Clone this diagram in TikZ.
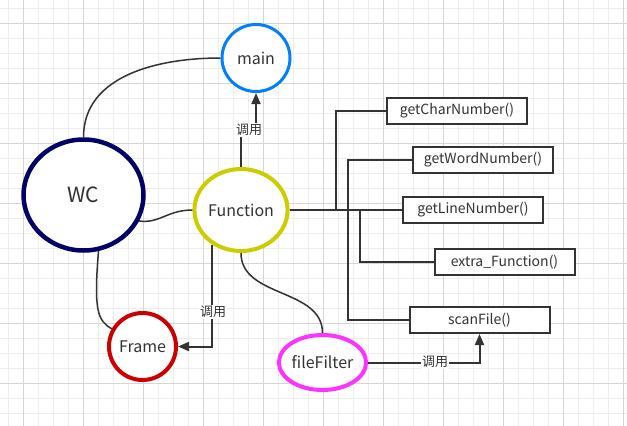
\documentclass[tikz,border=0pt]{standalone}
\usepackage{fontspec}
\setmainfont{Noto Sans CJK SC}
\usetikzlibrary{calc,arrows.meta,positioning,shapes.geometric}
\definecolor{wcblue}{RGB}{0,0,102}
\definecolor{mainblue}{RGB}{0,127,255}
\definecolor{funcyellow}{RGB}{204,204,0}
\definecolor{framered}{RGB}{204,0,0}
\definecolor{filepink}{RGB}{255,51,255}
\definecolor{xian}{RGB}{51,51,51}
\tikzset{
  yuan/.style={ellipse,draw,fill=white,line width=4pt,text=xian,inner sep=0pt,font=\fontsize{16}{18}\selectfont},
  hanshu/.style={rectangle,draw=xian,fill=white,line width=2pt,minimum width=140pt,minimum height=26pt,inner sep=0pt,text=xian,font=\fontsize{14}{16}\selectfont},
  lian/.style={draw=xian,line width=2pt},
  qulian/.style={draw=xian,line width=1.5pt},
  jiantou/.style={draw=xian,line width=2pt,-{Triangle[length=11pt,width=9pt]}},
  diaoyong/.style={fill=white,inner sep=1pt,text=xian,font=\fontsize{13}{15}\selectfont},
  xiaoge/.style={draw=black!7,line width=1pt},
  dage/.style={draw=black!16,line width=1pt}
}

\begin{document}
\begin{tikzpicture}[x=1pt,y=-1pt]
        \useasboundingbox (0,0) rectangle (627,426);
        \fill[white] (0,0) rectangle (627,426);
        %背景格線
        \foreach \i in {0,...,41} {\draw[xiaoge] (8+15*\i,0) -- (8+15*\i,426);}
        \foreach \j in {0,...,27} {\draw[xiaoge] (0,8+15*\j) -- (627,8+15*\j);}
        \foreach \i in {0,...,10} {\draw[dage] (23+60*\i,0) -- (23+60*\i,426);}
        \foreach \j in {0,...,6} {\draw[dage] (0,23+60*\j) -- (627,23+60*\j);}

        \node[yuan,draw=mainblue,line width=3pt,minimum width=68pt,minimum height=67pt] (main) at (256,58) {main};
        \node[yuan,draw=wcblue,line width=4.5pt,minimum width=120pt,minimum height=111pt,font=\fontsize{21}{24}\selectfont] (WC) at (83.5,195) {WC};
        \node[yuan,draw=funcyellow,minimum width=87pt,minimum height=82pt] (Function) at (241,210) {Function};
        \node[yuan,draw=framered,minimum width=67pt,minimum height=67pt] (Frame) at (142.5,346.5) {Frame};
        \node[yuan,draw=filepink,minimum width=77pt,minimum height=55pt] (fileFilter) at (322.5,362.5) {fileFilter};

        \node[hanshu] (getChar) at (457,111) {getCharNumber()};
        \node[hanshu] (getWord) at (483,159.5) {getWordNumber()};
        \node[hanshu] (getLine) at (473,210) {getLineNumber()};
        \node[hanshu] (extra) at (504.5,262) {extra\_Function()};
        \node[hanshu] (scanFile) at (479.5,320) {scanFile()};

        %函數分支
        \coordinate (zhu1) at (336,210);
        \coordinate (zhu2) at (348,210);
        \coordinate (zhu3) at (360,210);
        \draw[lian] (Function.east) -- (getLine.west);
        \draw[lian] (zhu1) |- (getChar.west);
        \draw[lian] (getWord.west) -| (zhu2) |- (scanFile.west);
        \draw[lian] (zhu3) |- (extra.west);

        %調用箭頭
        \draw[jiantou] (Function.north) -- ++(0,-38) -| (main.south);
        \node[diaoyong] (dy1) at (249,130) {调用};
        \draw[jiantou] (Function.230) |- (Frame.east);
        \node[diaoyong] (dy2) at (213,312) {调用};
        \draw[jiantou] (fileFilter.east) -| (scanFile.south);
        \node[diaoyong] (dy3) at (435,362) {调用};

        \draw[qulian] (WC.north) .. controls +(0,-62) and +(-62,0) .. (main.west);
        \draw[qulian] (WC.-25) .. controls +(20,3) and +(-25,0) .. (Function.west);
        \draw[qulian] (WC.-75) .. controls +(-5,60) and +(-14,-8) .. (Frame.150);
        \draw[qulian] (Function.south) .. controls +(0,45) and +(0,-45) .. (fileFilter.north);
        \end{tikzpicture}
\end{document}
